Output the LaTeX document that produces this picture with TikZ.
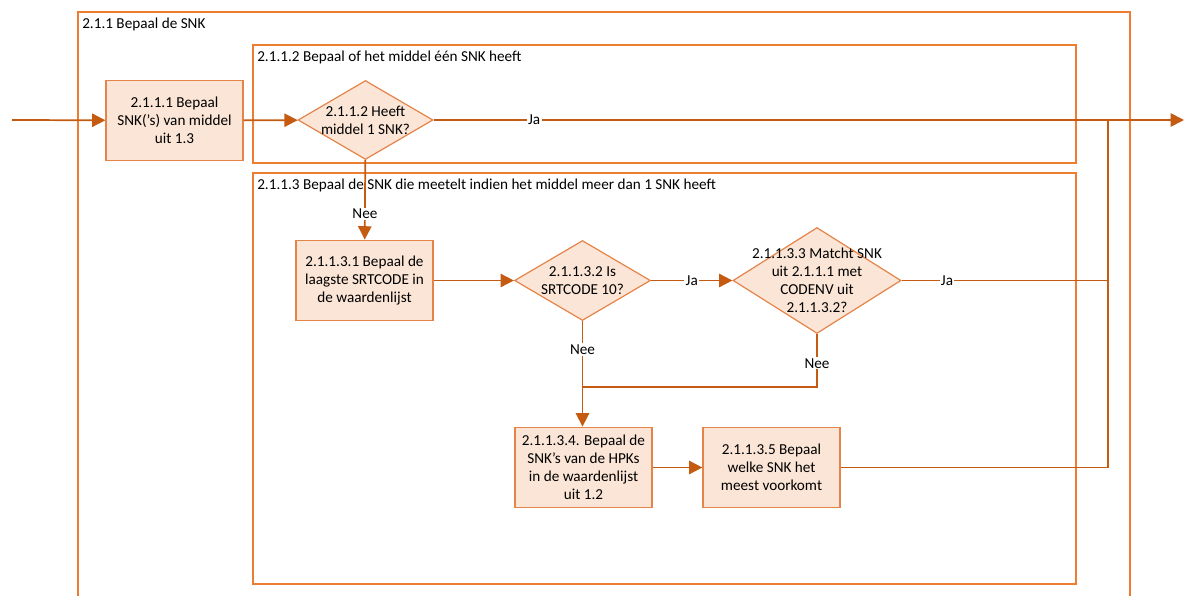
\documentclass[tikz,border=0pt]{standalone}
\usepackage{fontspec}
\setmainfont{Carlito}
\usetikzlibrary{arrows.meta, positioning, shapes.geometric}

\definecolor{frameline}{HTML}{ED7D31}
\definecolor{boxline}{HTML}{E58449}
\definecolor{boxfill}{HTML}{FBE5D6}
\definecolor{flowline}{HTML}{C55A11}

\begin{document}
\begin{tikzpicture}[x=0.75pt, y=-0.75pt, font=\fontsize{11.4}{13.5}\selectfont,
    frame/.style={draw=frameline, line width=0.9pt},
    ftitle/.style={anchor=north west, inner xsep=3pt, inner ysep=4pt},
    process/.style={rectangle, draw=boxline, fill=boxfill, line width=0.9pt, align=center,
      minimum width=102.75pt, minimum height=60.5pt, inner sep=0pt},
    decision/.style={diamond, draw=boxline, fill=boxfill, line width=0.9pt, inner sep=0pt},
    flow/.style={draw=flowline, line width=1.3pt, -{Triangle[length=10pt, width=10pt]}},
    plain/.style={draw=flowline, line width=1.3pt},
    lbl/.style={fill=white, inner sep=1pt}]
  \useasboundingbox (0,0) rectangle (1189,596);

  % Frames
  \draw[frame] (78,600) -- (78,12) -- (1130,12) -- (1130,600);
  \node[ftitle] (t211) at (78,12) {2.1.1 Bepaal de SNK};
  \draw[frame] (253,45) rectangle (1076,163);
  \node[ftitle] (t2112) at (253,45) {2.1.1.2 Bepaal of het middel één SNK heeft};
  \draw[frame] (253,173) rectangle (1076,584);
  \node[ftitle] (t2113) at (253,173) {2.1.1.3 Bepaal de SNK die meetelt indien het middel meer dan 1 SNK heeft};

  % Steps
  \node[process] (b1) at (174.5,120.5) {2.1.1.1 Bepaal\\SNK(’s) van middel\\uit 1.3};
  \node[decision, minimum width=101.25pt, minimum height=59.25pt,
    label={[align=center]center:{2.1.1.2 Heeft\\middel 1 SNK?}}] (d1) at (365.5,120) {};
  \node[process] (b31) at (364.5,280.5) {2.1.1.3.1 Bepaal de\\laagste SRTCODE in\\de waardenlijst};
  \node[decision, minimum width=102pt, minimum height=60pt,
    label={[align=center]center:{2.1.1.3.2 Is\\SRTCODE 10?}}] (d2) at (582.5,280.5) {};
  \node[decision, minimum width=126pt, minimum height=79.5pt,
    label={[align=center]center:{2.1.1.3.3 Matcht SNK\\uit 2.1.1.1 met\\CODENV uit\\2.1.1.3.2?}}] (d3) at (817,280.5) {};
  \node[process] (b4) at (583.5,467.5) {2.1.1.3.4. Bepaal de\\SNK’s van de HPKs\\in de waardenlijst\\uit 1.2};
  \node[process] (b5) at (771.5,467.5) {2.1.1.3.5 Bepaal\\welke SNK het\\meest voorkomt};

  % Connectors
  \coordinate (in) at (12,120);
  \coordinate (out) at (1184,120);
  \coordinate (j1) at (1108,280.5);
  \coordinate (j2) at (582.5,387);
  \draw[flow] (in) -- (b1);
  \draw[flow] (b1) -- (d1);
  \draw[flow] (d1) -- node[lbl, pos=0.134] {Ja} (out);
  \draw[flow] (d1) -- node[lbl, pos=0.68] {Nee} (b31);
  \draw[flow] (b31) -- (d2);
  \draw[flow] (d2) -- node[lbl] {Ja} (d3);
  \draw[plain] (d3) -- node[lbl, pos=0.22] {Ja} (j1);
  \draw[flow] (d2.south) -- node[lbl, pos=0.27] {Nee} (d2.south |- b4.north);
  \draw[plain] (d3.south) -- node[lbl, pos=0.55] {Nee} (d3.south |- j2) -- (j2);
  \draw[flow] (b4) -- (b5);
  \draw[plain] (b5.east) -- (b5.east -| j1) -- (j1 |- out);
\end{tikzpicture}
\end{document}
